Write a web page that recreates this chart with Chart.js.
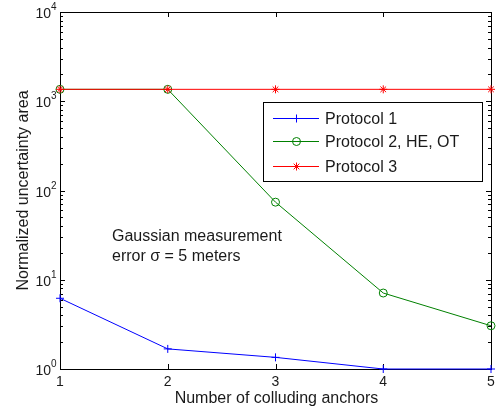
<!DOCTYPE html>
<html>
<head>
<meta charset="utf-8">
<script src="https://cdn.jsdelivr.net/npm/chart.js@4/dist/chart.umd.min.js"></script>
<style>
  html, body { margin: 0; padding: 0; background: #fff; }
  #wrap { width: 497px; height: 409px; }
</style>
</head>
<body>
<div id="wrap"><canvas id="chart" width="497" height="409"></canvas></div>
<script>
// data
const anchors = [1, 2, 3, 4, 5];
const protocol1 = [6.2, 1.68, 1.35, 1.0, 1.0];
const protocol2 = [1360, 1360, 74, 7.1, 3.05];
const protocol3 = [1360, 1360, 1360, 1360, 1360];
const seriesNames = ["Protocol 1", "Protocol 2, HE, OT", "Protocol 3"];
const xTicks = [1, 2, 3, 4, 5];
const yDecades = [0, 1, 2, 3, 4];
const xTitle = "Number of colluding anchors";
const yTitle = "Normalized uncertainty area";
const note = ["Gaussian measurement", "error \u03c3 = 5 meters"];

const FONT = "'Liberation Sans', Arial, sans-serif";

function pts(ys) {
  return anchors.map((x, i) => ({ x: x, y: ys[i] }));
}

const frame = {
  id: "frame",
  beforeDatasetsDraw(chart) {
    const ctx = chart.ctx;
    const a = chart.chartArea;
    const xs = chart.scales.x;
    const ys = chart.scales.y;
    ctx.save();
    ctx.strokeStyle = "#000";
    ctx.lineWidth = 1;
    ctx.strokeRect(a.left + 0.5, a.top + 0.5, a.right - a.left, a.bottom - a.top);

    // x ticks, bottom and top, pointing in
    ctx.beginPath();
    for (const t of xTicks) {
      const px = Math.round(xs.getPixelForValue(t)) + 0.5;
      ctx.moveTo(px, a.bottom); ctx.lineTo(px, a.bottom - 5);
      ctx.moveTo(px, a.top); ctx.lineTo(px, a.top + 5);
    }
    // y ticks, major and minor, both sides
    for (const d of yDecades) {
      const py = Math.round(ys.getPixelForValue(Math.pow(10, d))) + 0.5;
      ctx.moveTo(a.left, py); ctx.lineTo(a.left + 5, py);
      ctx.moveTo(a.right, py); ctx.lineTo(a.right - 5, py);
      if (d < yDecades[yDecades.length - 1]) {
        for (let m = 2; m <= 9; m++) {
          const pm = Math.round(ys.getPixelForValue(m * Math.pow(10, d))) + 0.5;
          ctx.moveTo(a.left, pm); ctx.lineTo(a.left + 3, pm);
          ctx.moveTo(a.right, pm); ctx.lineTo(a.right - 3, pm);
        }
      }
    }
    ctx.stroke();

    ctx.fillStyle = "#1a1a1a";
    // x tick labels
    ctx.font = "14px " + FONT;
    ctx.textAlign = "center";
    ctx.textBaseline = "alphabetic";
    for (const t of xTicks) {
      ctx.fillText(String(t), xs.getPixelForValue(t), a.bottom + 17);
    }
    // y tick labels 10^d
    for (const d of yDecades) {
      const py = ys.getPixelForValue(Math.pow(10, d));
      ctx.font = "14px " + FONT;
      ctx.textAlign = "right";
      ctx.fillText("10", a.left - 9, py + 6);
      ctx.font = "10px " + FONT;
      ctx.textAlign = "left";
      ctx.fillText(String(d), a.left - 9, py - 2);
    }

    // axis titles
    ctx.font = "16px " + FONT;
    ctx.textAlign = "center";
    ctx.fillText(xTitle, (a.left + a.right) / 2 + 1, 403);
    ctx.save();
    ctx.translate(28, (a.top + a.bottom) / 2);
    ctx.rotate(-Math.PI / 2);
    ctx.fillText(yTitle, 0, 0);
    ctx.restore();

    // annotation
    ctx.textAlign = "left";
    ctx.fillText(note[0], 112, 241);
    ctx.fillText(note[1], 112, 261);
    ctx.restore();
  },
  afterDatasetsDraw(chart) {
    const ctx = chart.ctx;
    ctx.save();
    // legend
    const lx = 263.5, ly = 102.5, lw = 219, lh = 79;
    ctx.fillStyle = "#fff";
    ctx.fillRect(lx, ly, lw, lh);
    ctx.strokeStyle = "#000";
    ctx.lineWidth = 1;
    ctx.strokeRect(lx, ly, lw, lh);
    const rows = [118, 141, 166];
    chart.data.datasets.forEach((ds, i) => {
      const y = rows[i] + 0.5;
      ctx.strokeStyle = ds.borderColor;
      ctx.lineWidth = 1;
      ctx.beginPath();
      ctx.moveTo(273, y); ctx.lineTo(319, y);
      ctx.stroke();
      const cx = 296.5;
      ctx.beginPath();
      if (ds.pointStyle === "circle") {
        ctx.arc(cx, y, 4, 0, Math.PI * 2);
      } else if (ds.pointStyle === "cross") {
        ctx.moveTo(cx - 4, y); ctx.lineTo(cx + 4, y);
        ctx.moveTo(cx, y - 4); ctx.lineTo(cx, y + 4);
      } else {
        for (let k = 0; k < 4; k++) {
          const ang = k * Math.PI / 4;
          ctx.moveTo(cx - 4 * Math.cos(ang), y - 4 * Math.sin(ang));
          ctx.lineTo(cx + 4 * Math.cos(ang), y + 4 * Math.sin(ang));
        }
      }
      ctx.stroke();
      ctx.fillStyle = "#1a1a1a";
      ctx.font = "16px " + FONT;
      ctx.textAlign = "left";
      ctx.textBaseline = "middle";
      ctx.fillText(ds.label, 325, y + 1);
    });
    ctx.restore();
  }
};

new Chart(document.querySelector("#chart").getContext("2d"), {
  type: "line",
  data: {
    datasets: [
      {
        label: seriesNames[0],
        data: pts(protocol1),
        borderColor: "#0000ff",
        backgroundColor: "#0000ff",
        borderWidth: 1,
        pointStyle: "cross",
        pointRadius: 4,
        pointBorderWidth: 1,
        clip: false,
        order: 2,
      },
      {
        label: seriesNames[1],
        data: pts(protocol2),
        borderColor: "#008000",
        backgroundColor: "rgba(0,0,0,0)",
        borderWidth: 1,
        pointStyle: "circle",
        pointRadius: 4,
        pointBorderWidth: 1,
        clip: false,
        order: 1,
      },
      {
        label: seriesNames[2],
        data: pts(protocol3),
        borderColor: "#ff0000",
        backgroundColor: "#ff0000",
        borderWidth: 1,
        pointStyle: "star",
        pointRadius: 4,
        pointBorderWidth: 1,
        clip: false,
        order: 0,
      },
    ],
  },
  options: {
    responsive: false,
    animation: false,
    layout: { padding: { left: 60, right: 6, top: 12, bottom: 40 } },
    plugins: { legend: { display: false }, tooltip: { enabled: false } },
    elements: { line: { tension: 0 } },
    scales: {
      x: { type: "linear", min: 1, max: 5, display: false },
      y: { type: "logarithmic", min: 1, max: 10000, display: false },
    },
  },
  plugins: [frame],
});
</script>
</body>
</html>
